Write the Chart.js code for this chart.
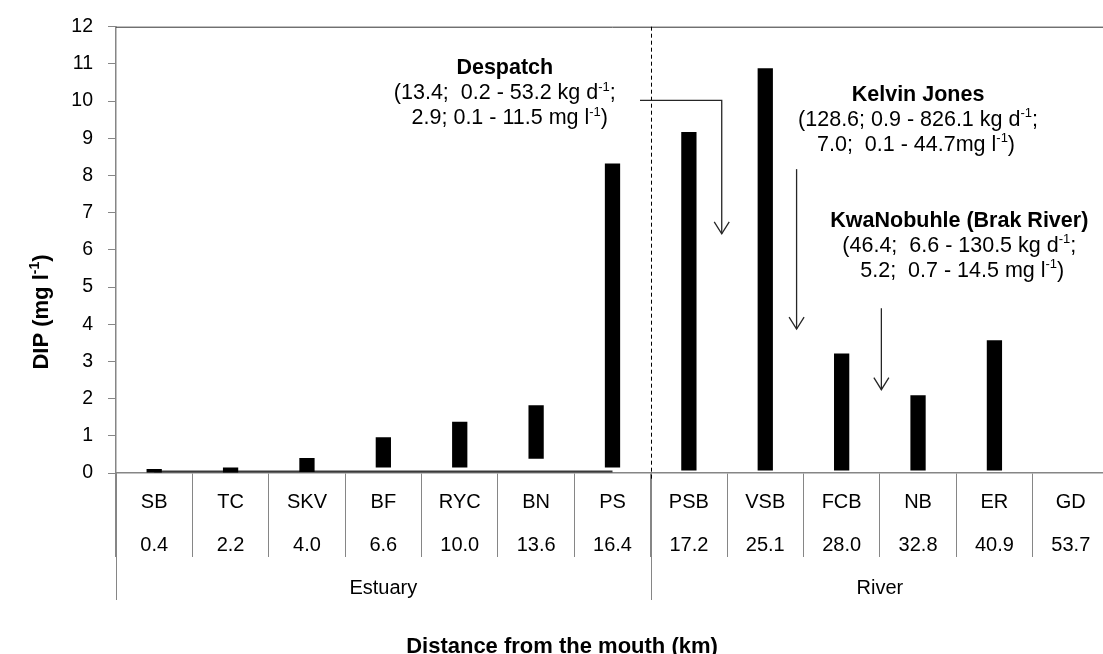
<!DOCTYPE html>
<html>
<head>
<meta charset="utf-8">
<script src="https://cdn.jsdelivr.net/npm/chart.js@4/dist/chart.umd.min.js"></script>
<style>
  html, body { margin: 0; padding: 0; background: #fff; overflow: hidden; }
  canvas { display: block; }
</style>
</head>
<body>
<canvas id="dipChart" width="1110" height="654"></canvas>
<script>
// Sampling sites along the Swartkops system and their distance from the mouth (km)
const sites = ['SB', 'TC', 'SKV', 'BF', 'RYC', 'BN', 'PS', 'PSB', 'VSB', 'FCB', 'NB', 'ER', 'GD'];
const distancesKm = ['0.4', '2.2', '4.0', '6.6', '10.0', '13.6', '16.4', '17.2', '25.1', '28.0', '32.8', '40.9', '53.7'];

// DIP range (mg l-1) at each site: lowest and highest value
const dipLow  = [0.00, 0.00, 0.03, 0.15, 0.15, 0.38, 0.15, 0.07, 0.07, 0.07, 0.07, 0.07, null];
const dipHigh = [0.11, 0.15, 0.40, 0.96, 1.38, 1.82, 8.32, 9.17, 10.88, 3.21, 2.09, 3.57, null];

// Estuary baseline level
const estuaryBaseline = [0.04, 0.04, 0.04, 0.04, 0.04, 0.04, 0.04, null, null, null, null, null, null];

// Zones grouping the sites (first / last site index)
const zoneNames = ['Estuary', 'River'];
const zoneFirst = [0, 7];
const zoneLast  = [6, 12];

// Y axis ticks
const yMin = 0, yMax = 12, yStep = 1;

// Wastewater treatment works discharging into the river
const worksNames = ['Despatch', 'Kelvin Jones', 'KwaNobuhle (Brak River)'];
const worksLoad  = [['(13.4;  0.2 - 53.2 kg d', '-1', ';'], ['(128.6; 0.9 - 826.1 kg d', '-1', ';'], ['(46.4;  6.6 - 130.5 kg d', '-1', ';']];
const worksConc  = [['2.9; 0.1 - 11.5 mg l', '-1', ')'], ['7.0;  0.1 - 44.7mg l', '-1', ')'], ['5.2;  0.7 - 14.5 mg l', '-1', ')']];
// label anchor and arrow path in axis units (site index, mg l-1)
const worksLabelAt = [[4.59, 10.93], [10.0, 10.21], [10.54, 6.83]];
const worksArrows  = [
  [[6.36, 10.02], [7.43, 10.02], [7.43, 6.43]],
  [[8.41, 8.17], [8.41, 3.87]],
  [[9.52, 4.43], [9.52, 2.24]]
];

const FONT = '"Liberation Sans", Arial, Helvetica, sans-serif';
const AXIS_GREY = '#868686';
const NOTE_SIZE = 21.5;

const ranges = dipLow.map((lo, i) => (lo === null || dipHigh[i] === null) ? null : [lo, dipHigh[i]]);

// Draws text made of [normal, superscript, normal] pieces centred on cx
function drawSupLine(ctx, parts, cx, cy, size, bold) {
  const w = bold ? 'bold ' : '';
  const big = w + size + 'px ' + FONT;
  const small = w + Math.round(size * 0.62) + 'px ' + FONT;
  ctx.font = big;  const w0 = ctx.measureText(parts[0]).width;
  ctx.font = small; const w1 = ctx.measureText(parts[1]).width;
  ctx.font = big;  const w2 = ctx.measureText(parts[2]).width;
  let x = cx - (w0 + w1 + w2) / 2;
  const base = cy + size * 0.36;
  ctx.textAlign = 'left';
  ctx.textBaseline = 'alphabetic';
  ctx.font = big;   ctx.fillText(parts[0], x, base); x += w0;
  ctx.font = small; ctx.fillText(parts[1], x, base - size * 0.4); x += w1;
  ctx.font = big;   ctx.fillText(parts[2], x, base);
}

const decorations = {
  id: 'decorations',
  afterDraw(chart) {
    const { ctx, chartArea: area, scales: { x, y } } = chart;
    ctx.save();

    // frame line along the top of the plot
    ctx.strokeStyle = '#303030';
    ctx.lineWidth = 1;
    ctx.beginPath();
    ctx.moveTo(area.left, area.top + 0.5);
    ctx.lineTo(area.right, area.top + 0.5);
    ctx.stroke();

    // zone separators below the axis and zone labels
    ctx.strokeStyle = AXIS_GREY;
    ctx.lineWidth = 1;
    const zoneEdges = [x.getPixelForValue(zoneFirst[0] - 0.5)];
    zoneLast.forEach(l => zoneEdges.push(x.getPixelForValue(l + 0.5)));
    zoneEdges.forEach(px => {
      ctx.beginPath();
      ctx.moveTo(Math.round(px) + 0.5, area.bottom);
      ctx.lineTo(Math.round(px) + 0.5, area.bottom + 127);
      ctx.stroke();
    });
    ctx.fillStyle = '#000';
    ctx.font = '20px ' + FONT;
    ctx.textAlign = 'center';
    ctx.textBaseline = 'middle';
    zoneNames.forEach((name, i) => {
      const cx = (x.getPixelForValue(zoneFirst[i] - 0.5) + x.getPixelForValue(zoneLast[i] + 0.5)) / 2;
      ctx.fillText(name, cx, area.bottom + 115);
    });

    // dashed boundary between estuary and river
    const bx = Math.round(x.getPixelForValue(zoneLast[0] + 0.5)) + 0.5;
    ctx.strokeStyle = '#000';
    ctx.setLineDash([4, 3]);
    ctx.beginPath();
    ctx.moveTo(bx, area.top);
    ctx.lineTo(bx, area.bottom + 6);
    ctx.stroke();
    ctx.setLineDash([]);

    // axis titles
    ctx.fillStyle = '#000';
    drawSupLine(ctx, ['Distance from the mouth (km)', '', ''], 562, 645, 22, true);
    ctx.save();
    ctx.translate(40, 312);
    ctx.rotate(-Math.PI / 2);
    drawSupLine(ctx, ['DIP (mg l', '-1', ')'], 0, 0, 22, true);
    ctx.restore();

    // wastewater works labels and arrows
    const concShift = [5, -2, 3];
    worksNames.forEach((name, i) => {
      const cx = x.getPixelForValue(worksLabelAt[i][0]);
      const cy = y.getPixelForValue(worksLabelAt[i][1]);
      ctx.fillStyle = '#000';
      drawSupLine(ctx, [name, '', ''], cx, cy, NOTE_SIZE, true);
      drawSupLine(ctx, worksLoad[i], cx, cy + 25, NOTE_SIZE, false);
      drawSupLine(ctx, worksConc[i], cx + concShift[i], cy + 50, NOTE_SIZE, false);

      const pts = worksArrows[i].map(p => [x.getPixelForValue(p[0]), y.getPixelForValue(p[1])]);
      ctx.strokeStyle = '#262626';
      ctx.lineWidth = 1.3;
      ctx.beginPath();
      pts.forEach((p, k) => k === 0 ? ctx.moveTo(p[0], p[1]) : ctx.lineTo(p[0], p[1]));
      ctx.stroke();
      const tip = pts[pts.length - 1];
      ctx.beginPath();
      ctx.moveTo(tip[0] - 7.5, tip[1] - 12);
      ctx.lineTo(tip[0], tip[1]);
      ctx.lineTo(tip[0] + 7.5, tip[1] - 12);
      ctx.stroke();
    });

    ctx.restore();
  }
};

new Chart(document.getElementById('dipChart'), {
  type: 'bar',
  data: {
    labels: sites.map((s, i) => [s, distancesKm[i]]),
    datasets: [
      {
        type: 'bar',
        label: 'DIP range',
        data: ranges,
        backgroundColor: '#000000',
        borderWidth: 0,
        barPercentage: 0.2,
        categoryPercentage: 1.0,
        order: 0
      },
      {
        type: 'line',
        label: 'Estuary baseline',
        data: estuaryBaseline,
        borderColor: '#3a3a3a',
        borderWidth: 2,
        pointRadius: 0,
        fill: false,
        spanGaps: false,
        order: 1
      }
    ]
  },
  options: {
    responsive: false,
    animation: false,
    events: [],
    layout: { padding: { left: 0, top: 23, right: 1, bottom: 0 } },
    plugins: {
      legend: { display: false },
      tooltip: { enabled: false },
      title: { display: false }
    },
    scales: {
      x: {
        type: 'category',
        offset: true,
        grid: {
          display: true,
          offset: true,
          drawOnChartArea: false,
          drawTicks: true,
          tickLength: 84,
          color: AXIS_GREY,
          lineWidth: 1
        },
        border: { display: true, color: AXIS_GREY, width: 1.5 },
        ticks: {
          color: '#000',
          font: { family: FONT, size: 20, lineHeight: 2.15 },
          padding: -76,
          maxRotation: 0,
          minRotation: 0,
          autoSkip: false
        },
        afterFit(scale) { scale.height = 181; }
      },
      y: {
        min: yMin,
        max: yMax,
        grid: {
          display: true,
          drawOnChartArea: false,
          drawTicks: true,
          tickLength: 8,
          color: AXIS_GREY
        },
        border: { display: true, color: AXIS_GREY, width: 1.5 },
        ticks: {
          stepSize: yStep,
          color: '#000',
          font: { family: FONT, size: 19.5 },
          padding: 15
        },
        afterFit(scale) { scale.width = 116; }
      }
    }
  },
  plugins: [decorations]
});
</script>
</body>
</html>
